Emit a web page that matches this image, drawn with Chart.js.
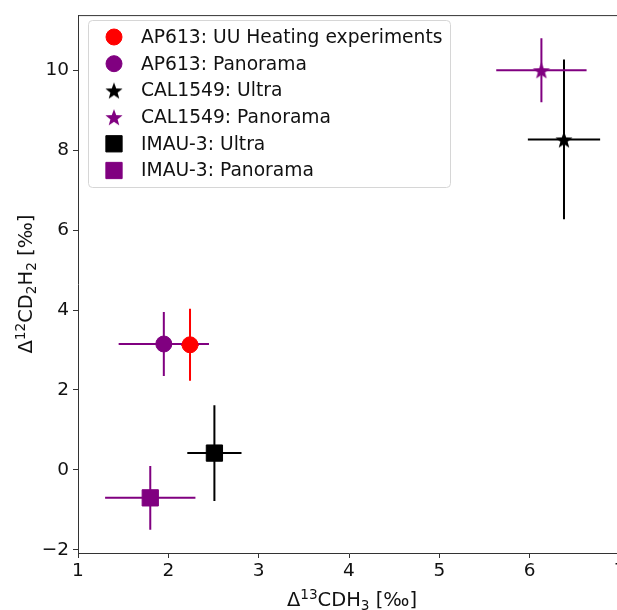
<!DOCTYPE html>
<html>
<head>
<meta charset="utf-8">
<script src="https://cdn.jsdelivr.net/npm/chart.js@4/dist/chart.umd.min.js"></script>
<style>
  html, body { margin: 0; padding: 0; background: #fff; overflow: hidden; }
  #wrap { width: 640px; height: 610px; }
</style>
</head>
<body>
<div id="wrap"><canvas id="isoChart" width="640" height="610"></canvas></div>
<script>
// values
const seriesNames = ['AP613: UU Heating experiments', 'AP613: Panorama', 'CAL1549: Ultra',
                     'CAL1549: Panorama', 'IMAU-3: Ultra', 'IMAU-3: Panorama'];
const d13CDH3 = [2.24, 1.95, 6.38, 6.13, 2.51, 1.80];
const d13CDH3Err = [0.1, 0.5, 0.4, 0.5, 0.3, 0.5];
const d12CD2H2 = [3.13, 3.15, 8.27, 10.0, 0.42, -0.70];
const d12CD2H2Err = [0.9, 0.8, 2.0, 0.8, 1.2, 0.8];
const seriesColors = ['#ff0000', '#800080', '#000000', '#800080', '#000000', '#800080'];
const seriesMarkers = ['circle', 'circle', 'star', 'star', 'rect', 'rect'];
const xTicks = [1, 2, 3, 4, 5, 6, 7];
const yTicks = [-2, 0, 2, 4, 6, 8, 10];
// axis titles as [text, 'sup' | 'sub' | ''] pieces
const xTitle = [['Δ', ''], ['13', 'sup'], ['CDH', ''], ['3', 'sub'], [' [‰]', '']];
const yTitle = [['Δ', ''], ['12', 'sup'], ['CD', ''], ['2', 'sub'], ['H', ''], ['2', 'sub'], [' [‰]', '']];

const FONT = 'DejaVu Sans';

// filled five point star, Chart.js 'star' is only lines
const makeStar = (color, r) => {
    const s = Math.ceil(r * 2 + 2);
    const c = document.createElement('canvas');
    c.width = s; c.height = s;
    const g = c.getContext('2d');
    g.beginPath();
    for (let i = 0; i < 10; i++) {
        const rad = i % 2 ? r * 0.42 : r;
        const a = -Math.PI / 2 + i * Math.PI / 5;
        g.lineTo(s / 2 + rad * Math.cos(a), s / 2 + 1 + rad * Math.sin(a));
    }
    g.closePath();
    g.fillStyle = color;
    g.fill();
    return c;
};

const markerStyle = (i) => seriesMarkers[i] === 'star' ? makeStar(seriesColors[i], 9) : seriesMarkers[i];
const markerRadius = (i) => seriesMarkers[i] === 'rect' ? 11.5 : 8;

const datasets = seriesNames.map((name, i) => ({
    label: name,
    data: [{ x: d13CDH3[i], y: d12CD2H2[i], xerr: d13CDH3Err[i], yerr: d12CD2H2Err[i] }],
    pointStyle: markerStyle(i),
    pointRadius: markerRadius(i),
    pointHoverRadius: markerRadius(i),
    backgroundColor: seriesColors[i],
    borderColor: seriesColors[i],
    borderWidth: 1
}));

const errorBars = {
    id: 'errorBars',
    beforeDatasetsDraw(chart) {
        const { ctx, scales: { x, y } } = chart;
        ctx.save();
        ctx.lineWidth = 2;
        chart.data.datasets.forEach(ds => {
            ctx.strokeStyle = ds.borderColor;
            ds.data.forEach(p => {
                const px = x.getPixelForValue(p.x);
                const py = y.getPixelForValue(p.y);
                ctx.beginPath();
                ctx.moveTo(x.getPixelForValue(p.x - p.xerr), py);
                ctx.lineTo(x.getPixelForValue(p.x + p.xerr), py);
                ctx.moveTo(px, y.getPixelForValue(p.y - p.yerr));
                ctx.lineTo(px, y.getPixelForValue(p.y + p.yerr));
                ctx.stroke();
            });
        });
        ctx.restore();
    }
};

// draws a title with small raised / lowered digits, centred on (0, 0)
const drawMathTitle = (ctx, parts, size) => {
    const small = size * 0.7;
    const fontFor = kind => `${kind ? small : size}px "${FONT}"`;
    let total = 0;
    parts.forEach(([t, kind]) => { ctx.font = fontFor(kind); total += ctx.measureText(t).width; });
    let cx = -total / 2;
    ctx.textAlign = 'left';
    ctx.textBaseline = 'alphabetic';
    parts.forEach(([t, kind]) => {
        ctx.font = fontFor(kind);
        const dy = kind === 'sup' ? -size * 0.36 : kind === 'sub' ? size * 0.2 : 0;
        ctx.fillText(t, cx, dy);
        cx += ctx.measureText(t).width;
    });
};

const frameAndLegend = {
    id: 'frameAndLegend',
    afterDraw(chart) {
        const { ctx, chartArea: a } = chart;
        ctx.save();
        // top spine
        ctx.strokeStyle = '#333';
        ctx.lineWidth = 1;
        ctx.beginPath();
        ctx.moveTo(a.left, a.top + 0.5);
        ctx.lineTo(a.right, a.top + 0.5);
        ctx.stroke();

        // axis titles
        ctx.fillStyle = '#111';
        ctx.save();
        ctx.translate((a.left + a.right) / 2 + 3, 606);
        drawMathTitle(ctx, xTitle, 19.5);
        ctx.restore();
        ctx.save();
        ctx.translate(32, (a.top + a.bottom) / 2);
        ctx.rotate(-Math.PI / 2);
        drawMathTitle(ctx, yTitle, 19.5);
        ctx.restore();

        // legend box
        const bx = 88, by = 20, bw = 362, bh = 167;
        ctx.beginPath();
        ctx.roundRect(bx + 0.5, by + 0.5, bw, bh, 4);
        ctx.fillStyle = 'rgba(255,255,255,0.8)';
        ctx.fill();
        ctx.strokeStyle = '#d6d6d6';
        ctx.stroke();

        ctx.font = `18.7px "${FONT}"`;
        ctx.textBaseline = 'middle';
        ctx.textAlign = 'left';
        chart.data.datasets.forEach((ds, i) => {
            const ly = 37 + i * 26.7;
            ctx.fillStyle = ds.backgroundColor;
            ctx.strokeStyle = ds.borderColor;
            ctx.lineWidth = 1;
            Chart.helpers.drawPoint(ctx, { pointStyle: ds.pointStyle, radius: ds.pointRadius, rotation: 0, borderWidth: 1 }, 114, ly);
            ctx.fillStyle = '#111';
            ctx.fillText(ds.label, 141, ly + 1);
        });
        ctx.restore();
    }
};

new Chart(document.getElementById('isoChart'), {
    type: 'scatter',
    data: { datasets },
    plugins: [errorBars, frameAndLegend],
    options: {
        responsive: false,
        animation: false,
        devicePixelRatio: 1,
        layout: { padding: { top: 13, right: 20, left: 0, bottom: 0 } },
        plugins: { legend: { display: false }, tooltip: { enabled: false } },
        scales: {
            x: {
                type: 'linear',
                min: 1,
                max: 7,
                afterFit: s => { s.height = 57; },
                afterBuildTicks: s => { s.ticks = xTicks.map(v => ({ value: v })); },
                border: { color: '#333', width: 1 },
                grid: { drawOnChartArea: false, tickLength: 5, tickColor: '#333' },
                ticks: { color: '#111', padding: 2, maxRotation: 0, autoSkip: false, font: { family: FONT, size: 18.5 } }
            },
            y: {
                type: 'linear',
                min: -2.08,
                max: 11.38,
                afterFit: s => { s.width = 78; },
                afterBuildTicks: s => { s.ticks = yTicks.map(v => ({ value: v })); },
                border: { color: '#333', width: 1 },
                grid: { drawOnChartArea: false, tickLength: 5, tickColor: '#333' },
                ticks: {
                    color: '#111',
                    padding: 4,
                    font: { family: FONT, size: 18.5 },
                    callback: v => String(v).replace('-', '\u2212')
                }
            }
        }
    }
});
</script>
</body>
</html>
